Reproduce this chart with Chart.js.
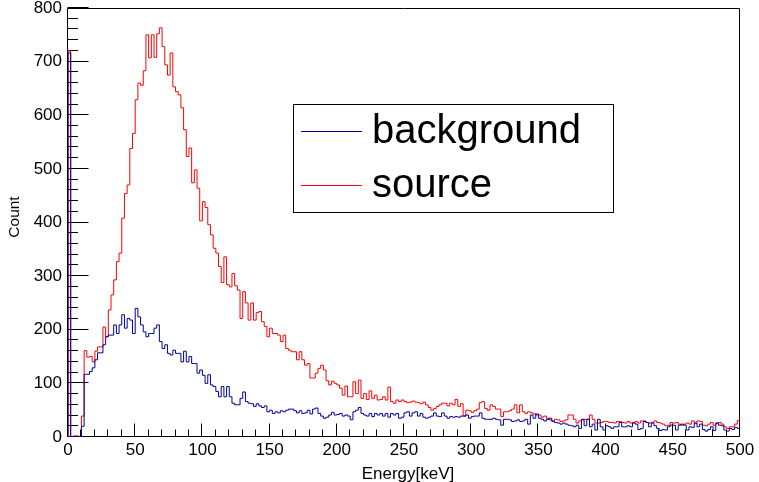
<!DOCTYPE html>
<html>
<head>
<meta charset="utf-8">
<script src="https://cdn.jsdelivr.net/npm/chart.js@4/dist/chart.umd.min.js"></script>
<style>
html,body{margin:0;padding:0;background:#fff;}
#wrap{width:759px;height:482px;}
</style>
</head>
<body>
<div id="wrap"><canvas id="c" width="759" height="482"></canvas></div>
<script>
// ---- data (2 keV bins starting at 0 keV) ----
const binStart = 0;
const binWidth = 2;
const seriesNames = ['background', 'source'];
const xTitle = 'Energy[keV]';
const yTitle = 'Count';
const xTicks = [0, 50, 100, 150, 200, 250, 300, 350, 400, 450, 500];
const yTicks = [0, 100, 200, 300, 400, 500, 600, 700, 800];

const background = [
  716, 1, 1, 0, 1, 20, 117, 117, 122, 129,
  144, 157, 157, 172, 187, 190, 190, 209, 193, 209,
  228, 203, 221, 218, 193, 240, 224, 209, 196, 187,
  193, 193, 203, 209, 178, 165, 172, 156, 153, 162,
  156, 156, 140, 160, 140, 150, 137, 137, 119, 125,
  115, 100, 116, 97, 94, 85, 75, 94, 75, 94,
  75, 63, 60, 60, 72, 84, 66, 63, 62, 57,
  62, 58, 55, 58, 47, 50, 44, 47, 45, 49,
  47, 50, 52, 52, 49, 45, 49, 44, 45, 50,
  43, 52, 54, 44, 39, 35, 37, 41, 46, 41,
  42, 44, 39, 41, 39, 32, 47, 50, 55, 44,
  41, 39, 44, 38, 44, 41, 44, 39, 44, 37,
  44, 41, 44, 35, 37, 45, 47, 39, 45, 47,
  39, 44, 37, 35, 37, 39, 45, 39, 38, 45,
  39, 35, 38, 37, 38, 37, 39, 39, 41, 35,
  38, 39, 39, 45, 35, 33, 33, 33, 35, 33,
  32, 22, 33, 33, 32, 29, 30, 32, 29, 30,
  33, 24, 41, 35, 43, 35, 33, 30, 33, 35,
  29, 27, 26, 24, 26, 24, 22, 21, 19, 22,
  16, 33, 21, 33, 19, 24, 13, 33, 19, 13,
  21, 19, 16, 19, 19, 27, 19, 19, 21, 19,
  26, 24, 14, 16, 29, 27, 19, 26, 21, 16,
  12, 14, 13, 19, 22, 22, 13, 22, 24, 22,
  13, 19, 18, 26, 19, 24, 14, 11, 14, 19,
  12, 26, 22, 21, 13, 11, 16, 14, 18, 16
];

const source = [
  720, 0, 2, 2, 0, 39, 161, 149, 150, 140,
  160, 168, 168, 205, 187, 237, 265, 293, 327, 343,
  408, 454, 470, 538, 566, 629, 660, 656, 683, 750,
  707, 750, 708, 752, 763, 728, 694, 675, 716, 653,
  644, 638, 614, 573, 523, 539, 474, 498, 464, 403,
  439, 428, 396, 377, 352, 343, 318, 288, 336, 284,
  280, 305, 282, 274, 221, 271, 250, 218, 250, 218,
  232, 234, 215, 206, 187, 203, 193, 193, 190, 178,
  190, 165, 162, 159, 159, 144, 159, 144, 134, 137,
  110, 110, 119, 128, 134, 125, 105, 97, 104, 100,
  97, 91, 78, 95, 75, 75, 103, 81, 106, 72,
  81, 70, 86, 72, 78, 69, 70, 75, 69, 93,
  66, 63, 69, 66, 69, 66, 64, 65, 67, 65,
  64, 62, 65, 60, 55, 50, 53, 57, 60, 63,
  63, 58, 63, 60, 70, 57, 62, 39, 50, 49,
  46, 49, 52, 64, 66, 53, 50, 60, 57, 52,
  52, 38, 47, 47, 49, 52, 60, 45, 60, 47,
  44, 47, 45, 43, 41, 41, 37, 39, 35, 32,
  30, 33, 32, 29, 30, 32, 41, 41, 33, 26,
  30, 32, 33, 33, 41, 33, 26, 26, 27, 29,
  29, 27, 27, 26, 29, 29, 27, 26, 29, 26,
  27, 29, 26, 30, 30, 27, 26, 27, 30, 27,
  26, 24, 21, 22, 27, 26, 27, 24, 22, 24,
  26, 24, 30, 26, 30, 29, 22, 21, 24, 27,
  22, 26, 27, 24, 19, 16, 19, 19, 24, 31
];

const colors = { background: '#000099', source: '#ff0000' };
const FONT = "'Liberation Sans', Arial, Helvetica, sans-serif";

function histPoints(vals) {
  const pts = [{ x: binStart, y: 0 }];
  vals.forEach((v, i) => pts.push({ x: binStart + i * binWidth, y: v }));
  pts.push({ x: binStart + vals.length * binWidth, y: vals[vals.length - 1] });
  return pts;
}

const rootStyle = {
  id: 'rootStyle',
  beforeDatasetsDraw(chart) {
    const { ctx, chartArea: a, scales: { x, y } } = chart;
    ctx.save();
    ctx.strokeStyle = '#000';
    ctx.lineWidth = 1;
    const L = Math.round(a.left) - 0.5, R = Math.round(a.right) - 0.5;
    const T = Math.round(a.top) + 0.5, B = Math.round(a.bottom) - 0.5;
    ctx.beginPath();
    ctx.rect(L, T, R - L, B - T);
    ctx.stroke();
    // y ticks (major every 100, minor every 20)
    const yMajor = yTicks[1] - yTicks[0];
    const yMinor = yMajor / 5;
    ctx.beginPath();
    for (let v = yTicks[0]; v <= yTicks[yTicks.length - 1] + 1e-6; v += yMinor) {
      const py = Math.round(y.getPixelForValue(v)) - 0.5;
      const len = (Math.abs(v % yMajor) < 1e-6) ? 21 : 10.5;
      ctx.moveTo(L, py);
      ctx.lineTo(L + len, py);
    }
    // x ticks (major every 50, minor every 10)
    const xMajor = xTicks[1] - xTicks[0];
    const xMinor = xMajor / 5;
    for (let v = xTicks[0]; v <= xTicks[xTicks.length - 1] + 1e-6; v += xMinor) {
      const px = Math.round(x.getPixelForValue(v)) - 0.5;
      const len = (Math.abs(v % xMajor) < 1e-6) ? 13 : 7;
      ctx.moveTo(px, B);
      ctx.lineTo(px, B - len);
    }
    ctx.stroke();
    ctx.restore();
  },
  afterDraw(chart) {
    const { ctx } = chart;
    ctx.save();
    // axis titles
    ctx.fillStyle = '#000';
    ctx.font = '17px ' + FONT;
    ctx.textAlign = 'center';
    ctx.textBaseline = 'alphabetic';
    ctx.fillText(xTitle, 408, 479);
    ctx.save();
    ctx.translate(19, 217);
    ctx.rotate(-Math.PI / 2);
    ctx.font = '15.5px ' + FONT;
    ctx.fillText(yTitle, 0, 0);
    ctx.restore();
    // legend box
    const bx = 293.5, by = 104.5, bw = 320, bh = 108;
    ctx.fillStyle = '#fff';
    ctx.fillRect(bx, by, bw, bh);
    ctx.strokeStyle = '#000';
    ctx.lineWidth = 1;
    ctx.strokeRect(bx, by, bw, bh);
    const rows = [
      { name: seriesNames[0], color: colors.background, lineY: 131, baseY: 143 },
      { name: seriesNames[1], color: colors.source, lineY: 185, baseY: 197 }
    ];
    ctx.font = '40px ' + FONT;
    ctx.textAlign = 'left';
    rows.forEach(r => {
      ctx.strokeStyle = r.color;
      ctx.beginPath();
      ctx.moveTo(301, r.lineY + 0.5);
      ctx.lineTo(362, r.lineY + 0.5);
      ctx.stroke();
      ctx.fillStyle = '#000';
      ctx.fillText(r.name, 372, r.baseY);
    });
    ctx.restore();
  }
};

new Chart(document.getElementById('c'), {
  type: 'line',
  data: {
    datasets: [
      {
        label: seriesNames[0],
        data: histPoints(background),
        borderColor: colors.background,
        borderWidth: 1,
        pointRadius: 0,
        stepped: 'before',
        fill: false
      },
      {
        label: seriesNames[1],
        data: histPoints(source),
        borderColor: colors.source,
        borderWidth: 1,
        pointRadius: 0,
        stepped: 'before',
        fill: false
      }
    ]
  },
  options: {
    responsive: false,
    animation: false,
    devicePixelRatio: 1,
    layout: { padding: { left: 0, right: 19, top: 8, bottom: 0 } },
    plugins: { legend: { display: false }, tooltip: { enabled: false } },
    scales: {
      x: {
        type: 'linear',
        min: xTicks[0],
        max: xTicks[xTicks.length - 1],
        grid: { display: false, drawTicks: false },
        border: { display: false },
        afterBuildTicks: s => { s.ticks = xTicks.map(v => ({ value: v })); },
        ticks: {
          autoSkip: false,
          maxRotation: 0,
          padding: 3,
          color: '#000',
          font: { family: FONT, size: 17 }
        },
        afterFit: s => { s.height = 45; s.paddingLeft = 0; s.paddingRight = 0; }
      },
      y: {
        type: 'linear',
        min: yTicks[0],
        max: yTicks[yTicks.length - 1],
        grid: { display: false, drawTicks: false },
        border: { display: false },
        afterBuildTicks: s => { s.ticks = yTicks.map(v => ({ value: v })); },
        ticks: {
          autoSkip: false,
          padding: 6,
          color: '#000',
          font: { family: FONT, size: 17 }
        },
        afterFit: s => { s.width = 68; s.paddingTop = 0; s.paddingBottom = 0; }
      }
    }
  },
  plugins: [rootStyle]
});
</script>
</body>
</html>
